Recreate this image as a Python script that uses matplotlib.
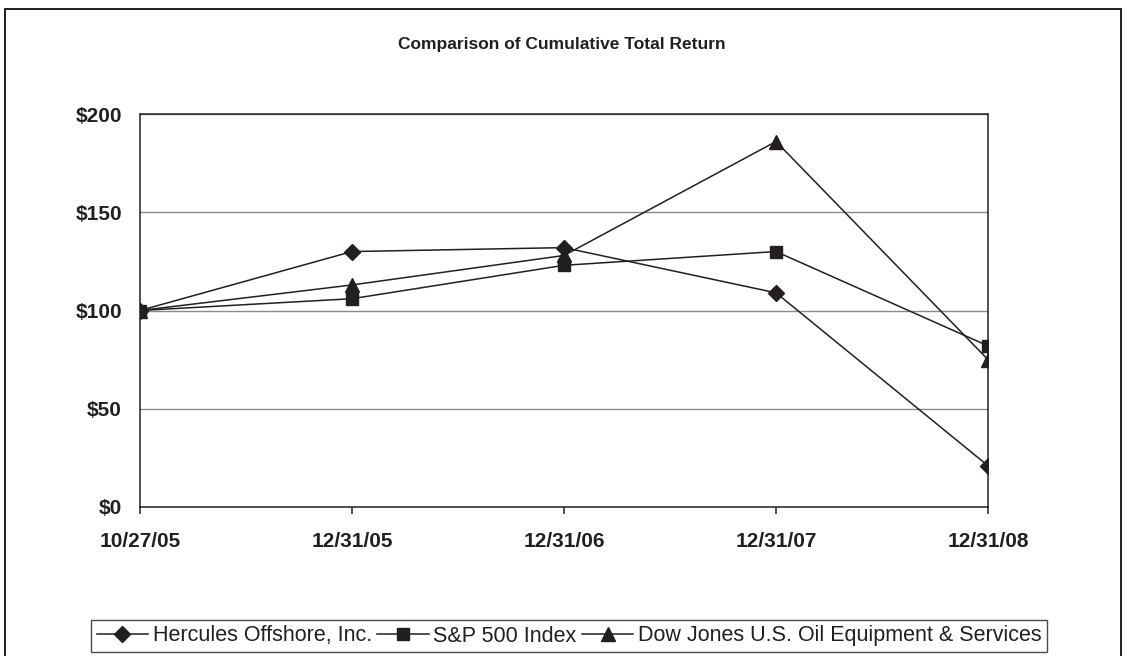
import matplotlib
matplotlib.use("Agg")
import matplotlib.pyplot as plt
from matplotlib.patches import Rectangle

plt.rcParams["font.family"] = ["Liberation Sans", "DejaVu Sans"]

INK = "#231f20"
GRID_CLR = "#8a8a8a"

dates = ["10/27/05", "12/31/05", "12/31/06", "12/31/07", "12/31/08"]
hercules = [100, 130, 132, 109, 21]
sp500 = [100, 106, 123, 130, 82]
dj_oil = [100, 113, 128, 186, 75]
y_ticks = [0, 50, 100, 150, 200]
y_labels = ["$0", "$50", "$100", "$150", "$200"]

fig = plt.figure(figsize=(11.24, 6.56), dpi=100, facecolor="white")

# outer frame (bottom edge runs off the page)
fig.patches.append(Rectangle((5 / 1124, -0.05), 1116 / 1124, 1.05 - 9 / 656,
                             transform=fig.transFigure, fill=False,
                             edgecolor=INK, linewidth=1.4))

ax = fig.add_axes([140 / 1124, 1 - 507 / 656, 848 / 1124, 393 / 656])
x = list(range(len(dates)))

ax.plot(x, hercules, color=INK, linewidth=1.1, marker="D", markersize=8,
        label="Hercules Offshore, Inc.")
ax.plot(x, sp500, color=INK, linewidth=1.1, marker="s", markersize=9,
        label="S&P 500 Index")
ax.plot(x, dj_oil, color=INK, linewidth=1.1, marker="^", markersize=10,
        label="Dow Jones U.S. Oil Equipment & Services")

ax.set_xlim(0, len(dates) - 1)
ax.set_ylim(0, 200)
ax.set_yticks(y_ticks)
ax.set_yticklabels(y_labels)
ax.set_xticks(x)
ax.set_xticklabels(dates)
ax.yaxis.grid(True, color=GRID_CLR, linewidth=1.0)
ax.set_axisbelow(True)
for s in ax.spines.values():
    s.set_color(INK)
    s.set_linewidth(1.1)
ax.tick_params(axis="x", direction="out", length=5, width=1.1, color=INK,
               pad=13, labelsize=15)
ax.tick_params(axis="y", length=0, pad=13, labelsize=15)
for lbl in ax.get_xticklabels() + ax.get_yticklabels():
    lbl.set_fontweight("bold")
    lbl.set_color(INK)

fig.text(0.5, 1 - 45 / 656, "Comparison of Cumulative Total Return",
         ha="center", va="center", fontsize=12.5, fontweight="bold", color=INK)

leg = fig.legend(loc="center", bbox_to_anchor=(569 / 1124, 1 - 636 / 656),
                 ncol=3, frameon=True, fancybox=False, fontsize=15.5,
                 handlelength=2.4, handletextpad=0.2, columnspacing=0.25,
                 borderpad=0.25, labelcolor=INK, markerscale=1.0)
leg.get_frame().set_edgecolor(INK)
leg.get_frame().set_linewidth(1.0)

fig.savefig("out.png", dpi=100, facecolor="white")
